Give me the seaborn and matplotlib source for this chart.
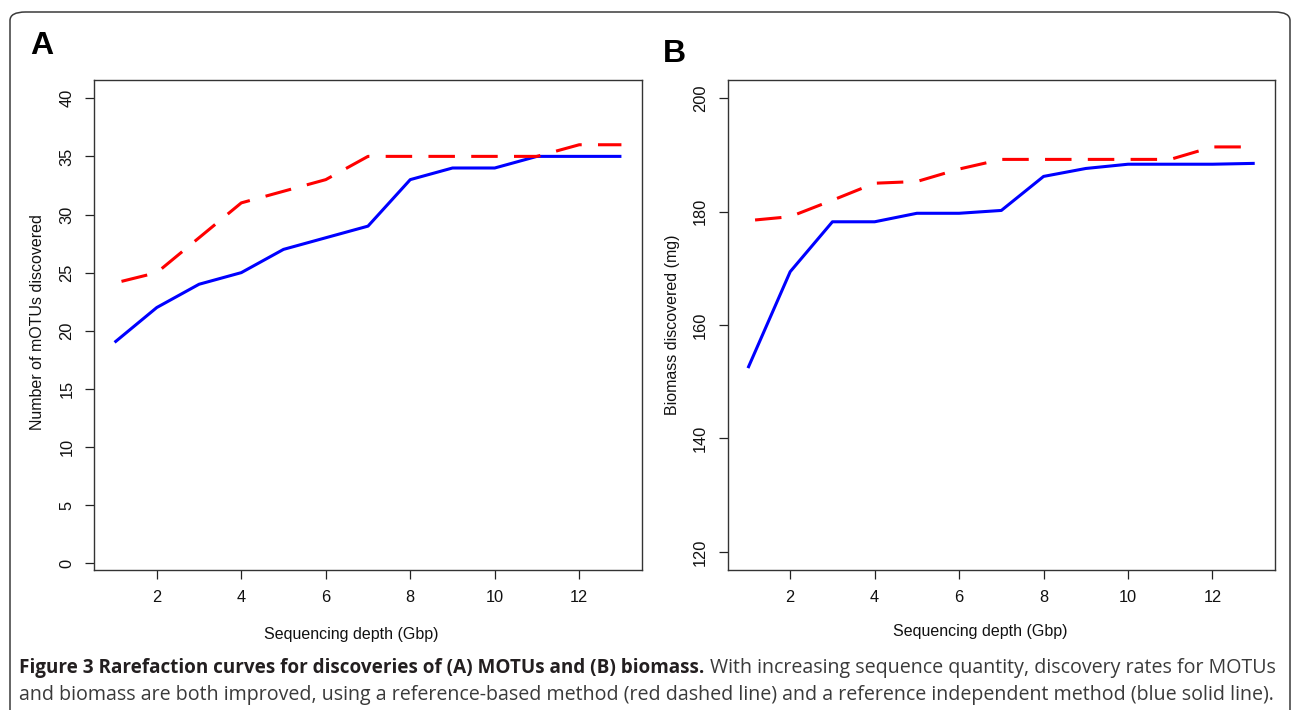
import numpy as np
import pandas as pd
import matplotlib
matplotlib.use("Agg")
import matplotlib.pyplot as plt
from matplotlib.patches import FancyBboxPatch
import seaborn as sns

# ---------------- data ----------------
depth = [1, 2, 3, 4, 5, 6, 7, 8, 9, 10, 11, 12, 13]
motu_ref_indep = [19, 22, 24, 25, 27, 28, 29, 33, 34, 34, 35, 35, 35]
motu_ref_based = [24.1, 25, 28, 31, 32, 33, 35, 35, 35, 35, 35, 36, 36]
bio_ref_indep = [152.4, 169.4, 178.2, 178.2, 179.7, 179.7, 180.2, 186.2, 187.6, 188.35, 188.35, 188.35, 188.5]
bio_ref_based = [178.4, 179.1, 182.0, 185.0, 185.3, 187.5, 189.2, 189.2, 189.2, 189.2, 189.2, 191.4, 191.4]
xticks = [2, 4, 6, 8, 10, 12]
yticks_a = [0, 5, 10, 15, 20, 25, 30, 35, 40]
yticks_b = [120, 140, 160, 180, 200]
xlabel = "Sequencing depth (Gbp)"
ylabel_a = "Number of mOTUs discovered"
ylabel_b = "Biomass discovered (mg)"
cap_bold = "Figure 3 Rarefaction curves for discoveries of (A) MOTUs and (B) biomass."
cap_rest1 = "With increasing sequence quantity, discovery rates for MOTUs"
cap_line2 = ("and biomass are both improved, using a reference-based method (red dashed line) "
             "and a reference independent method (blue solid line).")

dfa = pd.DataFrame({"depth": depth, "indep": motu_ref_indep, "based": motu_ref_based})
dfb = pd.DataFrame({"depth": depth, "indep": bio_ref_indep, "based": bio_ref_based})

# ---------------- figure ----------------
W, H = 1292, 710
fig = plt.figure(figsize=(W / 100, H / 100), dpi=100)
plt.rcParams["font.family"] = ["Liberation Sans", "DejaVu Sans"]

def fx(px):
    return px / W

def fy(py):
    return 1 - py / H

# rounded outer border (bottom edge runs off the image)
border = FancyBboxPatch((fx(10), fy(740)), fx(1290) - fx(10), fy(12) - fy(740),
                        boxstyle="round,pad=0,rounding_size=0.012",
                        transform=fig.transFigure, fill=False,
                        edgecolor="#3a3a3a", linewidth=1.1, clip_on=False)
fig.add_artist(border)

ax_a = fig.add_axes([fx(94.3), fy(570), fx(641.7) - fx(94.3), fy(80) - fy(570)])
ax_b = fig.add_axes([fx(727.7), fy(570), fx(1275) - fx(727.7), fy(80) - fy(570)])

LW = 2.2
dash = (11.67, (8.67, 5.33))

for ax, df, yt, ylim in [(ax_a, dfa, yticks_a, (-0.58, 41.57)),
                         (ax_b, dfb, yticks_b, (116.8, 203.2))]:
    sns.lineplot(data=df, x="depth", y="indep", ax=ax, color="#0000FF",
                 linewidth=LW, solid_capstyle="butt", solid_joinstyle="round")
    sns.lineplot(data=df, x="depth", y="based", ax=ax, color="#FF0000",
                 linewidth=LW, linestyle=dash, dash_capstyle="butt")
    ax.set_xlim(0.52, 13.48)
    ax.set_ylim(*ylim)
    ax.set_xticks(xticks)
    ax.set_yticks(yt)
    ax.set_xlabel("")
    ax.set_ylabel("")
    ax.tick_params(axis="both", direction="out", length=6.8, width=0.9,
                   color="#222222", labelsize=11.8, pad=7.5, labelcolor="#111111")
    ax.tick_params(axis="y", labelrotation=90)
    for lab in ax.get_yticklabels():
        lab.set_va("center")
    for sp in ax.spines.values():
        sp.set_linewidth(1.0)
        sp.set_color("#333333")
    ax.set_facecolor("white")
    ax.grid(False)

# axis titles
fig.text(fx(351), fy(635), xlabel, ha="center", va="center", fontsize=11.5, color="#111111")
fig.text(fx(980.6), fy(631.5), xlabel, ha="center", va="center", fontsize=11.5, color="#111111")
fig.text(fx(37.5), fy(322), ylabel_a, ha="center", va="center", rotation=90,
         fontsize=11.5, color="#111111")
fig.text(fx(672), fy(325), ylabel_b, ha="center", va="center", rotation=90,
         fontsize=11.5, color="#111111")

# panel letters
fig.text(fx(30), fy(31), "A", ha="left", va="top", fontsize=23, fontweight="bold", color="black")
fig.text(fx(663), fy(39), "B", ha="left", va="top", fontsize=23, fontweight="bold", color="black")

# caption (font sizes fitted to the reference line widths)
cap_font = ["Open Sans", "DejaVu Sans"]
renderer = fig.canvas.get_renderer()
t2 = fig.text(fx(19), fy(700), cap_line2, ha="left", va="baseline", fontsize=12,
              family=cap_font, color="#3a3a3a")
w2 = t2.get_window_extent(renderer).width
size = 12 * (1271 - 19) / w2
t2.set_fontsize(size)
t1 = fig.text(fx(19), fy(673), cap_bold, ha="left", va="baseline", fontsize=12,
              family=cap_font, fontweight="bold", color="#231f20")
w1 = t1.get_window_extent(renderer).width
t1.set_fontsize(12 * (703 - 19) / w1)
t3 = fig.text(fx(710), fy(673), cap_rest1, ha="left", va="baseline", fontsize=12,
              family=cap_font, color="#3a3a3a")
w3 = t3.get_window_extent(renderer).width
t3.set_fontsize(min(size, 12 * (1273 - 710) / w3))

fig.savefig("out.png", dpi=100, facecolor="white")
